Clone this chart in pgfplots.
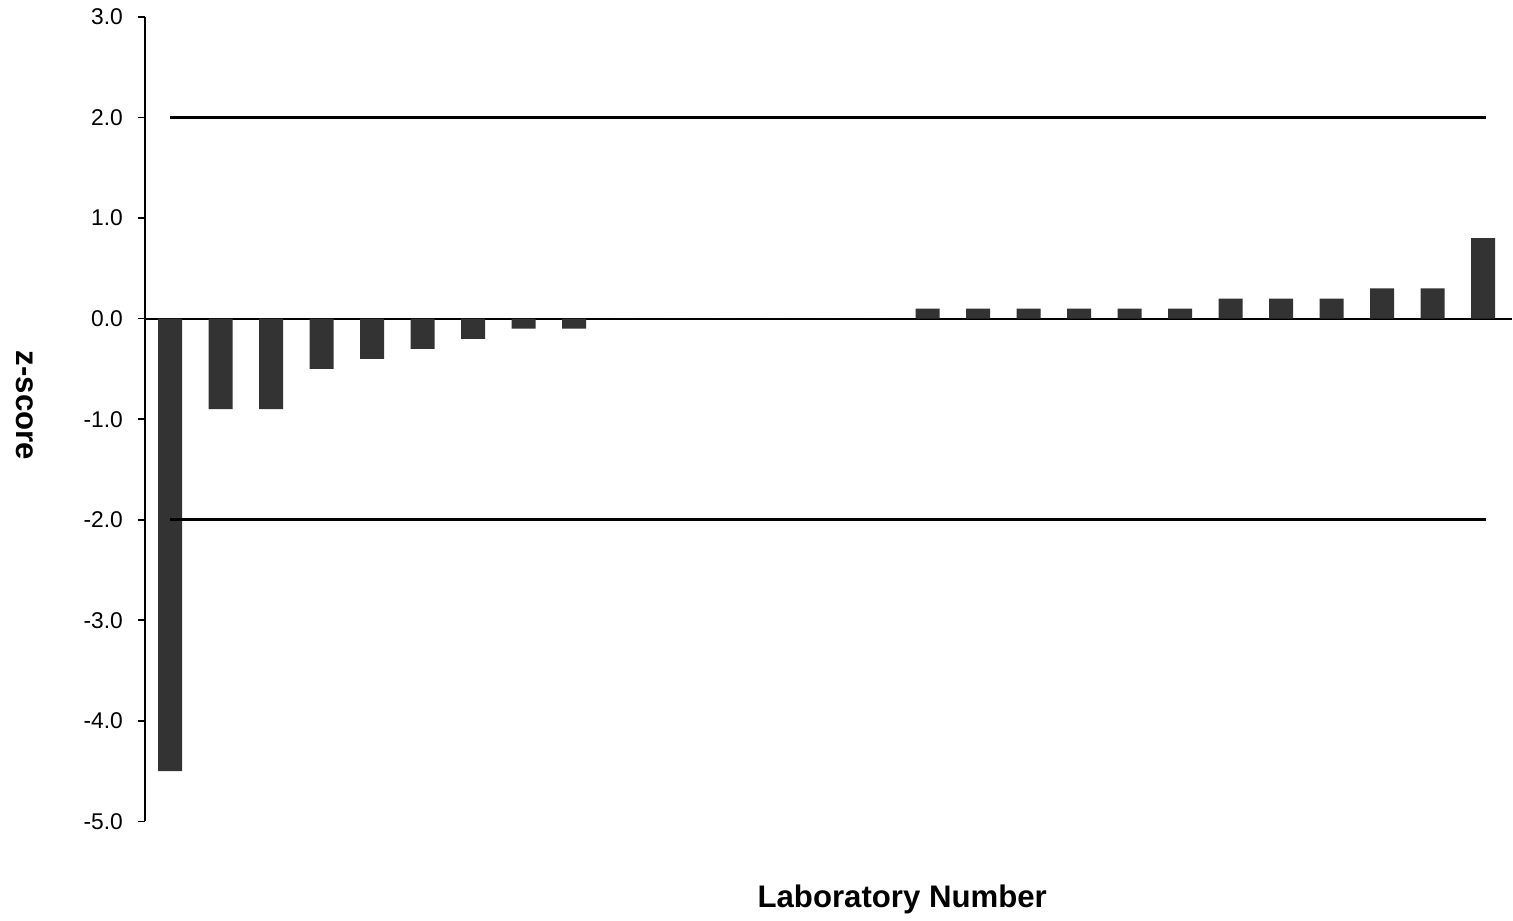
\documentclass[border=0pt]{standalone}
\usepackage{pgfplots}
\pgfplotsset{compat=1.18}
\usepackage{fontspec}
\setmainfont{Liberation Sans}
\definecolor{barc}{HTML}{333333}
\begin{document}
\begin{tikzpicture}
\begin{axis}[
  scale only axis,
  width=684pt, height=402.5pt,
  at={(0,0)}, anchor=south west,
  xmin=-0.5, xmax=26.57,
  ymin=-5, ymax=3,
  axis x line=middle,
  axis y line=left,
  axis line style={line width=0.8pt,-},
  x axis line style={line width=1.1pt},
  xtick=\empty,
  ytick={-5,-4,...,3},
  yticklabel={\pgfmathprintnumber[fixed,fixed zerofill,precision=1,assume math mode=true]{\tick}},
  tick style={black, line width=0.8pt},
  tick align=outside,
  major tick length=3.5pt,
  tick label style={font=\fontsize{11.4pt}{13pt}\selectfont},
  yticklabel style={xshift=-4pt},
  ylabel={\textbf{z-score}},
  ylabel style={font=\fontsize{15.6pt}{17pt}\selectfont, rotate=180, at={(rel axis cs:-0.0877,0.517)}, anchor=center},
  xlabel={\textbf{Laboratory Number}},
  xlabel style={font=\fontsize{15.6pt}{17pt}\selectfont, at={(rel axis cs:0.554,0)}, anchor=center, yshift=-39pt},
  clip=false,
]
\addplot[ybar, bar width=12pt, fill=barc, draw=none] coordinates {
(0,-4.5) (1,-0.9) (2,-0.9) (3,-0.5) (4,-0.4) (5,-0.3) (6,-0.2) (7,-0.1) (8,-0.1)
(9,0) (10,0) (11,0) (12,0) (13,0) (14,0)
(15,0.1) (16,0.1) (17,0.1) (18,0.1) (19,0.1) (20,0.1)
(21,0.2) (22,0.2) (23,0.2) (24,0.3) (25,0.3) (26,0.8)
};
\addplot[black, line width=1.5pt] coordinates {(0,2) (26.05,2)};
\addplot[black, line width=1.5pt] coordinates {(0,-2) (26.05,-2)};
\end{axis}
\path[use as bounding box] (-72.5pt,-48.5pt) rectangle (684pt,411pt);
\end{tikzpicture}
\end{document}
